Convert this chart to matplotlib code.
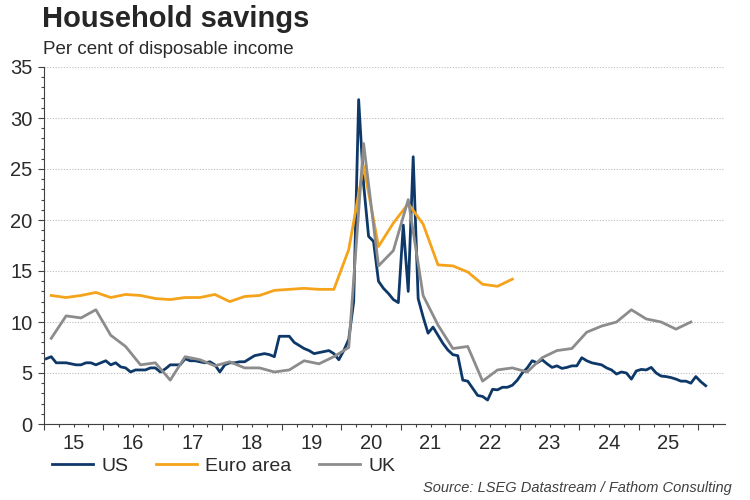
import numpy as np
import matplotlib
matplotlib.use("Agg")
import matplotlib.pyplot as plt
from matplotlib.ticker import FixedLocator, FixedFormatter

plt.rcParams["font.family"] = ["Liberation Sans", "DejaVu Sans"]

# US personal saving rate, monthly from Jan 2015
us = [
    6.4, 6.6, 6.0, 6.0, 6.0, 5.9, 5.8, 5.8, 6.0, 6.0, 5.8, 6.0,
    6.2, 5.8, 6.0, 5.6, 5.5, 5.1, 5.3, 5.3, 5.3, 5.5, 5.5, 5.1,
    5.4, 5.8, 5.8, 5.8, 6.4, 6.2, 6.2, 6.1, 6.0, 6.1, 5.8, 5.1,
    5.8, 6.0, 6.0, 6.1, 6.1, 6.4, 6.7, 6.8, 6.9, 6.8, 6.6, 8.6,
    8.6, 8.6, 8.0, 7.7, 7.4, 7.2, 6.9, 7.0, 7.1, 7.2, 6.9, 6.3,
    7.2, 8.3, 12.0, 31.8, 23.5, 18.4, 17.9, 14.0, 13.3, 12.8, 12.2, 11.9,
    19.5, 13.0, 26.2, 12.3, 10.5, 8.9, 9.5, 8.7, 7.9, 7.25, 6.8, 6.7,
    4.3, 4.2, 3.5, 2.8, 2.7, 2.35, 3.4, 3.35, 3.6, 3.6, 3.8, 4.3,
    5.0, 5.5, 6.2, 6.0, 6.3, 5.9, 5.55, 5.7, 5.45, 5.55, 5.7, 5.7,
    6.5, 6.2, 6.0, 5.9, 5.8, 5.5, 5.3, 4.9, 5.1, 5.0, 4.4, 5.2,
    5.35, 5.3, 5.55, 5.0, 4.7, 4.65, 4.55, 4.4, 4.2, 4.2, 4.0, 4.65,
    4.15, 3.75,
]

# Euro area, quarterly from 2015Q1
euro = [
    12.6, 12.4, 12.6, 12.9,
    12.4, 12.7, 12.6, 12.3,
    12.2, 12.4, 12.4, 12.7,
    12.0, 12.5, 12.6, 13.1,
    13.2, 13.3, 13.2, 13.2,
    17.1, 25.3, 17.4, 19.7,
    21.6, 19.6, 15.6, 15.5,
    14.9, 13.7, 13.5, 14.2,
]

# UK, quarterly from 2015Q1
uk = [
    8.4, 10.6, 10.4, 11.2,
    8.7, 7.6, 5.8, 6.0,
    4.3, 6.6, 6.3, 5.7,
    6.1, 5.5, 5.5, 5.1,
    5.3, 6.2, 5.9, 6.6,
    7.5, 27.5, 15.5, 17.0,
    22.0, 12.6, 9.7, 7.4,
    7.6, 4.2, 5.3, 5.5,
    5.1, 6.5, 7.2, 7.4,
    9.0, 9.6, 10.0, 11.2,
    10.3, 10.0, 9.3, 10.0,
]

years = list(range(2015, 2026))
year_labels = [str(y % 100) for y in years]

us_x = 2015 + (np.arange(len(us)) + 0.5) / 12
euro_x = 2015 + (np.arange(len(euro)) + 0.5) / 4
uk_x = 2015 + (np.arange(len(uk)) + 0.5) / 4

c_us = "#0d3868"
c_euro = "#f5a31a"
c_uk = "#8c8c8c"
c_text = "#2b2b2b"

fig = plt.figure(figsize=(7.5, 5), dpi=100)
ax = fig.add_axes([43.8 / 750, 76 / 500, (725 - 43.8) / 750, 357 / 500])

ax.plot(us_x, us, color=c_us, lw=2.0, label="US")
ax.plot(euro_x, euro, color=c_euro, lw=2.0, label="Euro area")
ax.plot(uk_x, uk, color=c_uk, lw=2.0, label="UK")

x_end = 2015 + (725 - 43.8) / 59.5
ax.set_xlim(2015, x_end)
ax.set_ylim(0, 35)

# y axis
ax.set_yticks(range(0, 36, 5))
ax.yaxis.set_minor_locator(FixedLocator(range(0, 36)))
ax.tick_params(axis="y", which="major", length=4, width=0.8, direction="out",
               labelsize=14.5, labelcolor=c_text, pad=4, color="#404040")
ax.tick_params(axis="y", which="minor", length=2.5, width=0.8, direction="out",
               color="#404040")

# x axis: year ticks, labels centred in each year
ax.xaxis.set_major_locator(FixedLocator(range(2015, 2027)))
ax.xaxis.set_major_formatter(FixedFormatter([""] * 12))
minor_pos, minor_lab = [], []
for y in range(2015, 2027):
    for q in (0.25, 0.5, 0.75):
        if y + q < x_end:
            minor_pos.append(y + q)
            minor_lab.append(year_labels[y - 2015] if (q == 0.5 and y <= 2025) else "")
ax.xaxis.set_minor_locator(FixedLocator(minor_pos))
ax.xaxis.set_minor_formatter(FixedFormatter(minor_lab))
ax.tick_params(axis="x", which="major", length=4, width=0.8, direction="out",
               color="#404040")
ax.tick_params(axis="x", which="minor", length=2.5, width=0.8, direction="out",
               labelsize=14.5, labelcolor=c_text, pad=5, color="#404040")

for s in ("top", "right"):
    ax.spines[s].set_visible(False)
for s in ("left", "bottom"):
    ax.spines[s].set_color("#404040")
    ax.spines[s].set_linewidth(0.8)

ax.grid(axis="y", which="major", color="#bcbcbc", lw=0.8, linestyle=(0, (1, 1.5)))
ax.set_axisbelow(True)

fig.text(42 / 750, 1 - 27 / 500, "Household savings", fontsize=21,
         fontweight="bold", color="#262626", va="baseline", ha="left")
fig.text(43 / 750, 1 - 53.5 / 500, "Per cent of disposable income", fontsize=13.5,
         color=c_text, va="baseline", ha="left")

fig.legend(loc="center left", bbox_to_anchor=(52 / 750, 1 - 466 / 500), ncol=3,
           frameon=False, fontsize=14, handlelength=2.1, handletextpad=0.45,
           columnspacing=1.4, borderaxespad=0, borderpad=0, labelcolor=c_text)

fig.text(732 / 750, 1 - 488 / 500, "Source: LSEG Datastream / Fathom Consulting",
         fontsize=10.5, style="italic", color="#404040", ha="right", va="center")

fig.savefig("out.png", dpi=100)
